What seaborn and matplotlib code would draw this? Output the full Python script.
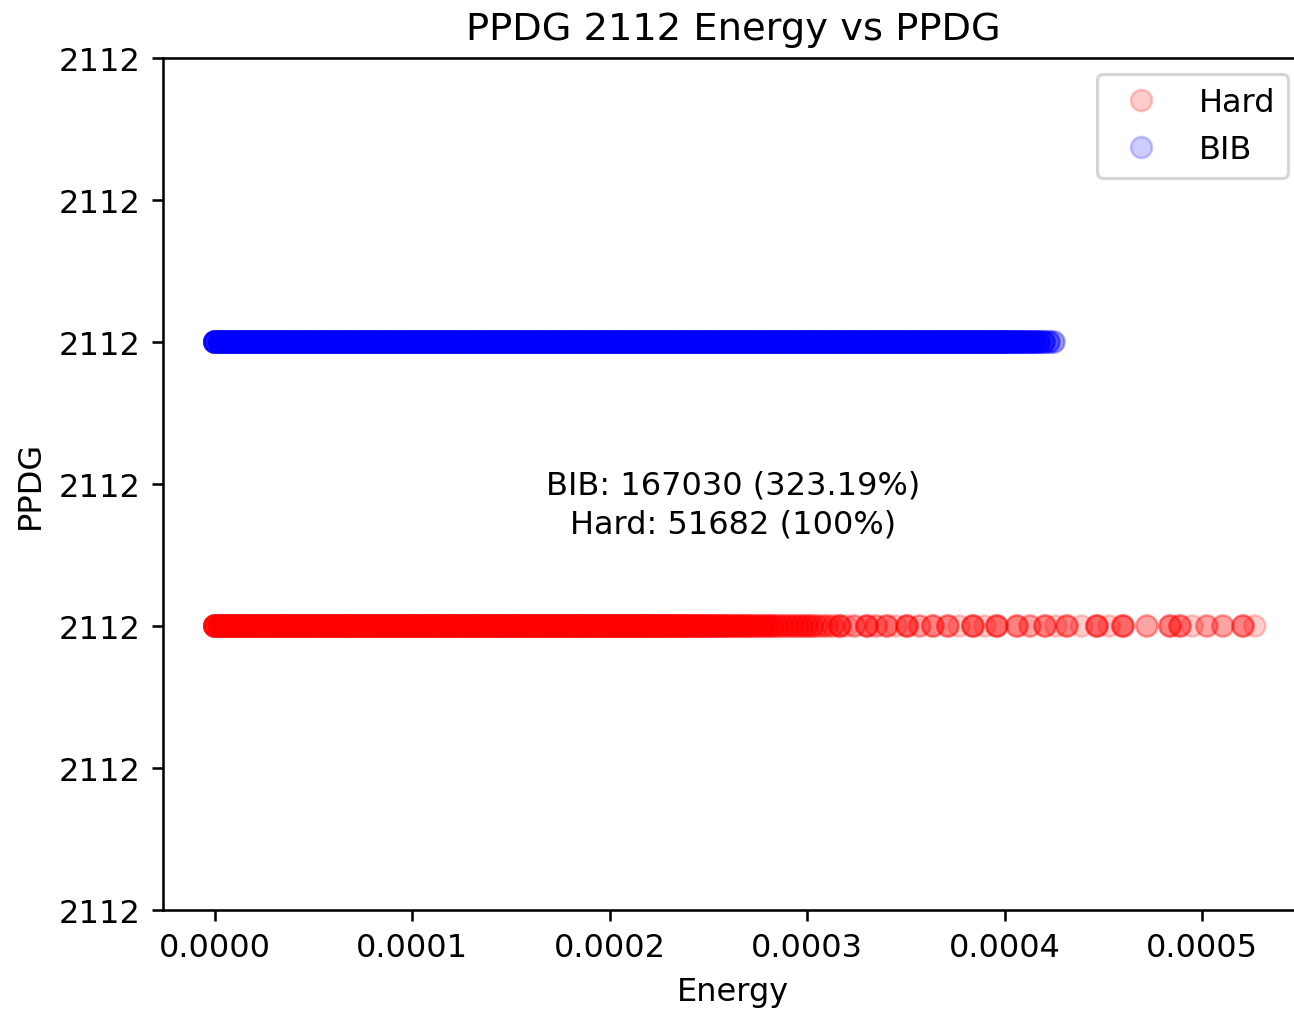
import numpy as np
import pandas as pd
import matplotlib
matplotlib.use('Agg')
import matplotlib.pyplot as plt
import matplotlib.ticker as mticker
import seaborn as sns

# energies, in units of 1e-7, with the number of events stacked at each
hard_energy = [0, 25, 50, 75, 100, 125, 150, 175, 200, 225, 250, 275, 300, 325, 350, 375, 400, 425, 450, 475,
               500, 525, 550, 575, 600, 625, 650, 675, 700, 725, 750, 775, 800, 825, 850, 875, 900, 925, 950, 975,
               1000, 1025, 1050, 1075, 1100, 1125, 1150, 1175, 1200, 1225, 1250, 1275, 1300, 1325, 1350, 1375, 1400, 1425, 1450, 1475,
               1500, 1525, 1550, 1575, 1600, 1625, 1650, 1675, 1700, 1725, 1750, 1775, 1800, 1825, 1850, 1875, 1900, 1925, 1950, 1975,
               2000, 2025, 2050, 2075, 2100, 2125, 2150, 2175, 2200, 2225, 2250, 2275, 2300, 2325, 2350, 2375, 2400, 2425, 2450, 2475,
               2500, 2525, 2550, 2575, 2600, 2625, 2650, 2675, 2700, 2725, 2750, 2775, 2800, 2825, 2850, 2875, 2900, 2925, 2950, 2975,
               3000, 3025, 3050, 3075, 3100,
               3130, 3166, 3200, 3240, 3303, 3350, 3404, 3450, 3506, 3570, 3637, 3713, 3770, 3840, 3900, 3961, 4063,
               4129, 4205, 4260, 4316, 4390, 4468, 4530, 4600, 4721, 4838, 4889, 4950, 5025, 5106, 5208, 5268]
hard_counts = [10, 10, 10, 10, 10, 10, 10, 10, 10, 10, 10, 10, 10, 10, 10, 10, 10, 10, 10, 10,
               10, 10, 10, 10, 10, 10, 10, 10, 10, 10, 10, 10, 10, 10, 10, 10, 10, 10, 10, 10,
               10, 10, 10, 10, 10, 10, 10, 10, 10, 10, 10, 10, 10, 10, 10, 10, 10, 10, 10, 10,
               10, 10, 10, 10, 10, 10, 10, 10, 10, 10, 10, 10, 10, 10, 10, 10, 10, 10, 10, 10,
               10, 10, 10, 10, 10, 10, 10, 10, 10, 9, 9, 9, 8, 8, 8, 8, 7, 7, 7, 7,
               6, 6, 6, 6, 5, 5, 5, 5, 5, 4, 4, 4, 4, 4, 3, 3, 3, 3, 3, 3,
               3, 3, 2, 2, 2,
               2, 4, 1, 2, 4, 2, 3, 1, 4, 2, 3, 3, 1, 4, 1, 4, 3,
               2, 3, 1, 3, 1, 4, 1, 4, 2, 3, 3, 1, 2, 2, 3, 1]

bib_energy = [0, 25, 50, 75, 100, 125, 150, 175, 200, 225, 250, 275, 300, 325, 350, 375, 400, 425, 450, 475,
              500, 525, 550, 575, 600, 625, 650, 675, 700, 725, 750, 775, 800, 825, 850, 875, 900, 925, 950, 975,
              1000, 1025, 1050, 1075, 1100, 1125, 1150, 1175, 1200, 1225, 1250, 1275, 1300, 1325, 1350, 1375, 1400, 1425, 1450, 1475,
              1500, 1525, 1550, 1575, 1600, 1625, 1650, 1675, 1700, 1725, 1750, 1775, 1800, 1825, 1850, 1875, 1900, 1925, 1950, 1975,
              2000, 2025, 2050, 2075, 2100, 2125, 2150, 2175, 2200, 2225, 2250, 2275, 2300, 2325, 2350, 2375, 2400, 2425, 2450, 2475,
              2500, 2525, 2550, 2575, 2600, 2625, 2650, 2675, 2700, 2725, 2750, 2775, 2800, 2825, 2850, 2875, 2900, 2925, 2950, 2975,
              3000, 3025, 3050, 3075, 3100, 3125, 3150, 3175, 3200, 3225, 3250, 3275, 3300, 3325, 3350, 3375, 3400, 3425, 3450, 3475,
              3500, 3525, 3550, 3575, 3600, 3625, 3650, 3675, 3700, 3725, 3750, 3775, 3800, 3825, 3850, 3875, 3900, 3925, 3950, 3975,
              4000, 4025, 4050, 4075, 4100, 4125, 4150, 4175, 4200, 4225, 4250]
bib_counts = [10, 10, 10, 10, 10, 10, 10, 10, 10, 10, 10, 10, 10, 10, 10, 10, 10, 10, 10, 10,
              10, 10, 10, 10, 10, 10, 10, 10, 10, 10, 10, 10, 10, 10, 10, 10, 10, 10, 10, 10,
              10, 10, 10, 10, 10, 10, 10, 10, 10, 10, 10, 10, 10, 10, 10, 10, 10, 10, 10, 10,
              10, 10, 10, 10, 10, 10, 10, 10, 10, 10, 10, 10, 10, 10, 10, 10, 10, 10, 10, 10,
              10, 10, 10, 10, 10, 10, 10, 10, 10, 10, 10, 10, 10, 10, 10, 10, 10, 10, 10, 10,
              10, 10, 10, 10, 10, 10, 10, 10, 10, 10, 10, 10, 10, 10, 10, 10, 10, 10, 10, 10,
              10, 10, 10, 10, 10, 10, 10, 10, 10, 10, 10, 10, 10, 10, 10, 10, 10, 10, 10, 10,
              10, 10, 10, 10, 10, 10, 10, 10, 10, 10, 10, 10, 10, 10, 10, 10, 10, 10, 10, 10,
              10, 9, 8, 8, 7, 6, 6, 5, 4, 3, 2]

ppdg = 2112
hard_total = 51682
bib_total = 167030

hard = pd.DataFrame({'Energy': np.repeat(np.array(hard_energy) * 1e-7, hard_counts),
                     'Sample': 'Hard'})
hard['PPDG'] = ppdg - 0.1
bib = pd.DataFrame({'Energy': np.repeat(np.array(bib_energy) * 1e-7, bib_counts),
                    'Sample': 'BIB'})
bib['PPDG'] = ppdg + 0.1
df = pd.concat([hard, bib], ignore_index=True)

dpi = 230
fig = plt.figure(figsize=(1294 / dpi, 1015 / dpi), dpi=dpi)
ax = fig.add_axes([163 / 1294, 104 / 1015, 1141 / 1294, 852 / 1015])

sns.scatterplot(data=df, x='Energy', y='PPDG', hue='Sample', hue_order=['Hard', 'BIB'],
                palette={'Hard': 'red', 'BIB': 'blue'}, alpha=0.2, s=44,
                edgecolor='face', linewidth=0.8, ax=ax)

ax.set_xlim(-0.0000263, 0.0005517)
ax.set_ylim(ppdg - 0.3, ppdg + 0.3)
ax.yaxis.set_major_locator(mticker.MultipleLocator(0.1))
ax.yaxis.set_major_formatter(mticker.StrMethodFormatter('{x:.0f}'))
ax.xaxis.set_major_locator(mticker.MultipleLocator(0.0001))
ax.xaxis.set_major_formatter(mticker.StrMethodFormatter('{x:.4f}'))

ax.set_title(f'PPDG {ppdg} Energy vs PPDG', fontsize=12)
ax.set_xlabel('Energy')
ax.set_ylabel('PPDG')

pct = bib_total / hard_total * 100
ax.text(0.5, 0.476, f'BIB: {bib_total} ({pct:.2f}%)\nHard: {hard_total} (100%)',
        ha='center', va='center', transform=ax.transAxes, fontsize=10, linespacing=1.35)

sns.move_legend(ax, 'upper right', title=None)

fig.savefig('out.png', dpi=dpi)
